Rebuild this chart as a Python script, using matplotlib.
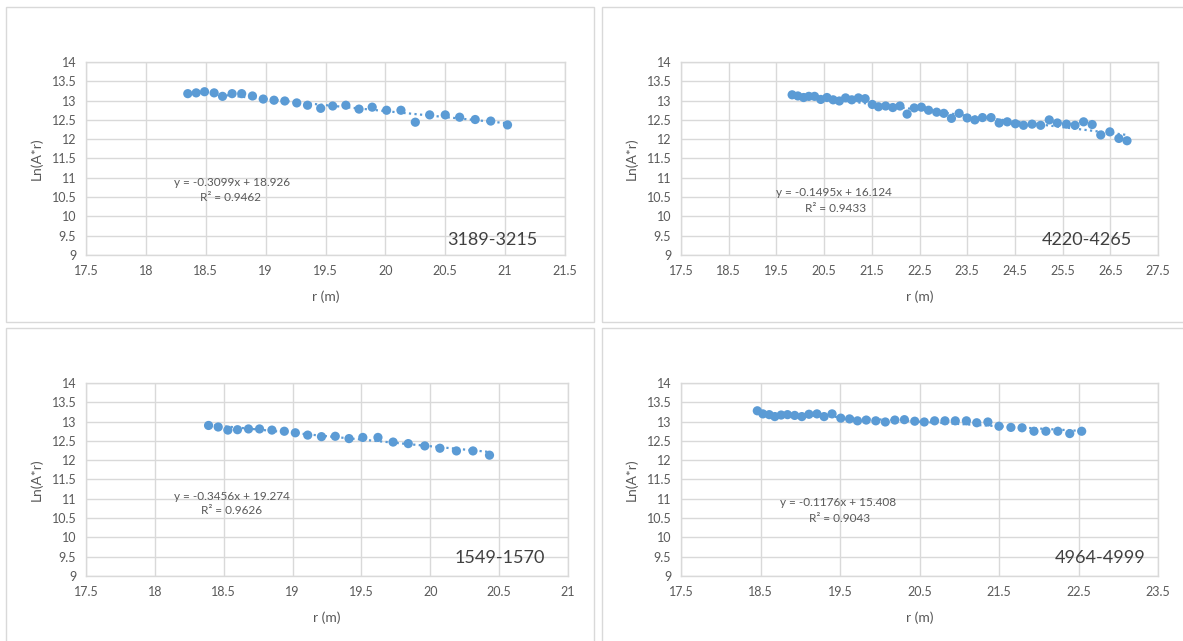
import matplotlib
matplotlib.use("Agg")
import matplotlib.pyplot as plt
from matplotlib.patches import Rectangle
import numpy as np

plt.rcParams['font.family'] = ['Lato', 'DejaVu Sans']

# ---- data ----
r1 = [18.35, 18.42, 18.49, 18.57, 18.64, 18.72, 18.80, 18.89, 18.98, 19.07, 19.16, 19.26, 19.35,
      19.46, 19.56, 19.67, 19.78, 19.89, 20.01, 20.13, 20.25, 20.37, 20.50, 20.62, 20.75, 20.88, 21.02]
y1 = [13.18, 13.20, 13.23, 13.20, 13.11, 13.18, 13.18, 13.12, 13.04, 13.01, 12.99, 12.94, 12.88,
      12.80, 12.86, 12.88, 12.78, 12.83, 12.75, 12.75, 12.44, 12.63, 12.63, 12.57, 12.51, 12.47, 12.37]

r2 = [19.83, 19.95, 20.07, 20.18, 20.30, 20.43, 20.56, 20.69, 20.82, 20.95, 21.08, 21.22, 21.36,
      21.51, 21.64, 21.79, 21.94, 22.09, 22.24, 22.39, 22.54, 22.69, 22.86, 23.01, 23.17, 23.33,
      23.50, 23.66, 23.82, 24.00, 24.17, 24.34, 24.51, 24.68, 24.86, 25.04, 25.22, 25.39, 25.58,
      25.76, 25.94, 26.12, 26.30, 26.49, 26.68, 26.85]
y2 = [13.15, 13.12, 13.08, 13.11, 13.11, 13.03, 13.08, 13.02, 12.99, 13.07, 13.02, 13.07, 13.05,
      12.90, 12.84, 12.86, 12.82, 12.86, 12.65, 12.81, 12.83, 12.75, 12.70, 12.67, 12.54, 12.67,
      12.55, 12.50, 12.56, 12.56, 12.42, 12.45, 12.40, 12.36, 12.39, 12.36, 12.50, 12.42, 12.39,
      12.36, 12.45, 12.38, 12.11, 12.19, 12.02, 11.96]

r3 = [18.39, 18.46, 18.53, 18.60, 18.68, 18.76, 18.85, 18.94, 19.02, 19.11, 19.21, 19.31, 19.41,
      19.51, 19.62, 19.73, 19.84, 19.96, 20.07, 20.19, 20.31, 20.43]
y3 = [12.90, 12.86, 12.78, 12.79, 12.81, 12.81, 12.78, 12.75, 12.71, 12.65, 12.61, 12.62, 12.56,
      12.59, 12.59, 12.47, 12.43, 12.37, 12.31, 12.24, 12.24, 12.13]

r4 = [18.46, 18.53, 18.61, 18.68, 18.76, 18.84, 18.93, 19.02, 19.11, 19.21, 19.30, 19.40, 19.51,
      19.62, 19.72, 19.83, 19.95, 20.07, 20.19, 20.31, 20.44, 20.56, 20.69, 20.82, 20.95, 21.09,
      21.22, 21.36, 21.50, 21.65, 21.79, 21.94, 22.09, 22.24, 22.39, 22.54]
y4 = [13.28, 13.20, 13.18, 13.13, 13.17, 13.18, 13.16, 13.13, 13.19, 13.20, 13.13, 13.20, 13.09,
      13.07, 13.02, 13.04, 13.02, 12.99, 13.04, 13.05, 13.01, 12.99, 13.02, 13.02, 13.02, 13.02,
      12.97, 12.99, 12.88, 12.85, 12.84, 12.75, 12.75, 12.75, 12.69, 12.75]

slopes = [-0.3099, -0.1495, -0.3456, -0.1176]
intercepts = [18.926, 16.124, 19.274, 15.408]
r2_values = ["0.9462", "0.9433", "0.9626", "0.9043"]
names = ["3189-3215", "4220-4265", "1549-1570", "4964-4999"]
x_ranges = [(17.5, 21.5, 0.5), (17.5, 27.5, 1.0), (17.5, 21.0, 0.5), (17.5, 23.5, 1.0)]

# ---- layout ----
W, H = 1183, 641
fig = plt.figure(figsize=(W / 100, H / 100), dpi=100)

def fx(px):
    return px / W

def fy(py):
    return 1 - py / H

# panel frames
frames = [(6, 7, 594, 322), (602, 7, 1190, 322), (6, 328, 594, 650), (602, 328, 1190, 650)]
for (x0, y0, x1, y1_) in frames:
    fig.patches.append(Rectangle((fx(x0), fy(y1_)), fx(x1) - fx(x0), fy(y0) - fy(y1_),
                                 transform=fig.transFigure, fill=False,
                                 edgecolor='#d9d9d9', lw=1.0))

axes_px = [(86, 62, 565, 255), (681, 62, 1158, 255), (86, 383, 568, 576), (681, 383, 1158, 576)]
eq_pos = [(232, 183, 231, 197), (834, 193, 836, 208), (232, 497, 232, 511), (838, 503, 840, 518)]
name_pos = [(492, 240), (1087, 240), (500, 558), (1100, 558)]

data = [(r1, y1), (r2, y2), (r3, y3), (r4, y4)]
blue = '#5B9BD5'
txt = '#595959'
grid = '#d9d9d9'

for i, (xs, ys) in enumerate(data):
    l, t, rr, b = axes_px[i]
    ax = fig.add_axes([fx(l), fy(b), fx(rr) - fx(l), fy(t) - fy(b)])
    xmin, xmax, step = x_ranges[i]
    ax.set_xlim(xmin, xmax)
    ax.set_ylim(9, 14)
    ax.set_xticks(np.arange(xmin, xmax + step / 2, step))
    ax.set_yticks(np.arange(9, 14.01, 0.5))
    ax.xaxis.set_major_formatter(matplotlib.ticker.FormatStrFormatter('%g'))
    ax.yaxis.set_major_formatter(matplotlib.ticker.FormatStrFormatter('%g'))
    ax.grid(True, color=grid, lw=1.0)
    ax.set_axisbelow(True)
    for s in ax.spines.values():
        s.set_color(grid)
        s.set_linewidth(1.0)
    ax.tick_params(length=0, labelsize=9, colors=txt, pad=7)
    ax.set_xlabel('r (m)', fontsize=10, color=txt, labelpad=10)
    ax.set_ylabel('Ln(A*r)', fontsize=10, color=txt, labelpad=6)

    # trend line
    xt = np.array([min(xs), max(xs)])
    ax.plot(xt, slopes[i] * xt + intercepts[i], ls=(0, (1, 1.5)), color=blue, lw=1.6, zorder=2)
    ax.scatter(xs, ys, s=44, color=blue, edgecolors='none', zorder=3)

    ex, ey, rx, ry = eq_pos[i]
    fig.text(fx(ex), fy(ey), f"y = {slopes[i]:.4f}x + {intercepts[i]:.3f}",
             ha='center', va='center', fontsize=8.5, color=txt)
    fig.text(fx(rx), fy(ry), f"R² = {r2_values[i]}",
             ha='center', va='center', fontsize=8.5, color=txt)
    nx, ny = name_pos[i]
    fig.text(fx(nx), fy(ny), names[i], ha='center', va='center', fontsize=13, color='#404040')

fig.savefig('out.png', dpi=100)
